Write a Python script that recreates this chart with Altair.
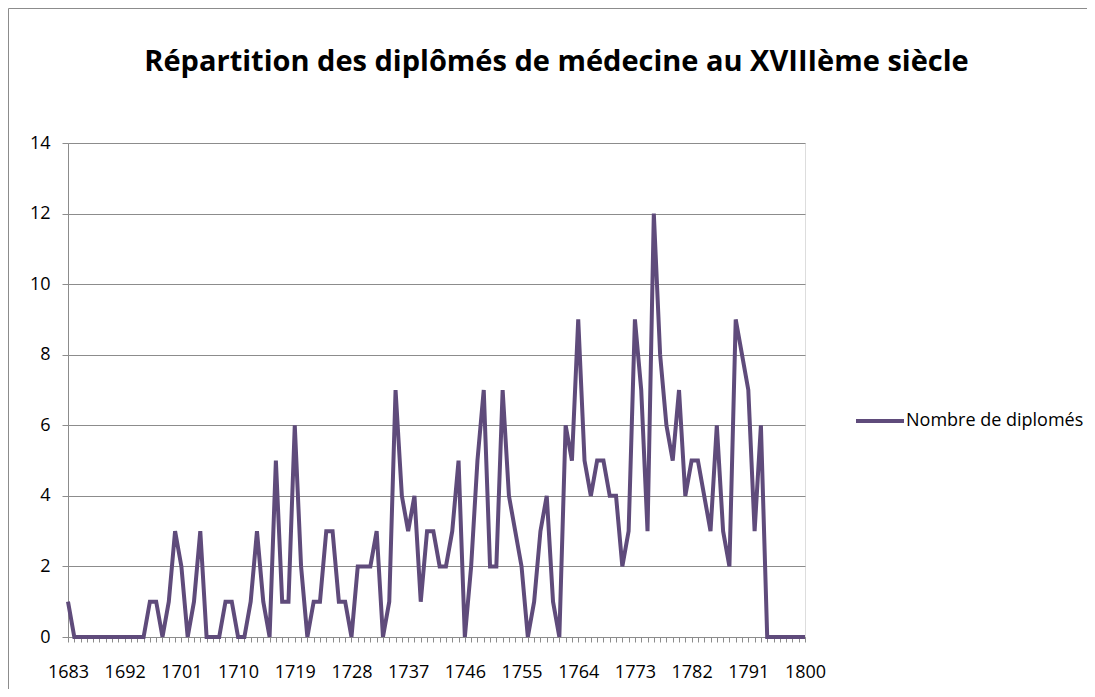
import altair as alt
import pandas as pd

years = list(range(1683, 1801))
values = [
    1, 0, 0, 0, 0, 0, 0, 0, 0, 0, 0, 0, 0,          # 1683-1695
    1, 1, 0, 1, 3, 2, 0, 1, 3, 0, 0, 0, 1, 1,       # 1696-1709
    0, 0, 1, 3, 1, 0, 5, 1, 1, 6, 2, 0, 1, 1,       # 1710-1723
    3, 3, 1, 1, 0, 2, 2, 2, 3, 0, 1, 7, 4, 3,       # 1724-1737
    4, 1, 3, 3, 2, 2, 3, 5, 0, 2, 5, 7, 2, 2,       # 1738-1751
    7, 4, 3, 2, 0, 1, 3, 4, 1, 0, 6, 5, 9, 5,       # 1752-1765
    4, 5, 5, 4, 4, 2, 3, 9, 7, 3, 12, 8, 6, 5,      # 1766-1779
    7, 4, 5, 5, 4, 3, 6, 3, 2, 9, 8, 7, 3, 6,       # 1780-1793
    0, 0, 0, 0, 0, 0, 0,                             # 1794-1800
]
series_name = "Nombre de diplomés"
title_text = "Répartition des diplômés de médecine au XVIIIème siècle"
y_ticks = [0, 2, 4, 6, 8, 10, 12, 14]

df = pd.DataFrame({"year": years, "value": values, "series": [series_name] * len(years)})
one = pd.DataFrame({"a": [0]})

FONT = "Open Sans"
GRID = "#8c8c8c"
PURPLE = "#5f4b7b"

border_top = alt.Chart(one).mark_rule(stroke=GRID, strokeWidth=1).encode(
    x=alt.value(-59.5), x2=alt.value(1200), y=alt.value(-134.5)
)
border_left = alt.Chart(one).mark_rule(stroke=GRID, strokeWidth=1).encode(
    x=alt.value(-59.5), y=alt.value(-134.5), y2=alt.value(800)
)

line = alt.Chart(df).mark_line(strokeWidth=4, clip=False).encode(
    x=alt.X(
        "year:Q",
        scale=alt.Scale(domain=[1683, 1800], nice=False, zero=False),
        axis=alt.Axis(
            title=None,
            values=years,
            format="d",
            labelExpr="(datum.value - 1683) % 9 == 0 ? datum.label : ''",
            labelOverlap=False,
            labelFlush=False,
            labelFont=FONT,
            labelFontSize=18,
            labelColor="#000000",
            labelPadding=21,
            tickSize=5,
            tickColor=GRID,
            domainColor=GRID,
            grid=False,
        ),
    ),
    y=alt.Y(
        "value:Q",
        scale=alt.Scale(domain=[0, 14], nice=False),
        axis=alt.Axis(
            title=None,
            values=y_ticks,
            labelFont=FONT,
            labelFontSize=18,
            labelColor="#000000",
            labelPadding=12,
            tickSize=6,
            tickColor=GRID,
            domainColor=GRID,
            grid=True,
            gridColor=GRID,
            gridWidth=1,
        ),
    ),
    color=alt.Color(
        "series:N",
        scale=alt.Scale(domain=[series_name], range=[PURPLE]),
        legend=alt.Legend(
            title=None,
            orient="none",
            legendX=786,
            legendY=252,
            symbolType="stroke",
            symbolSize=2304,
            symbolStrokeWidth=4,
            labelFont=FONT,
            labelFontSize=18,
            labelColor="#000000",
            labelOffset=0,
            labelLimit=400,
        ),
    ),
)

chart = alt.layer(border_top, border_left, line).properties(
    width=737,
    height=494,
    autosize=alt.AutoSizeParams(type="none"),
    padding={"left": 60, "top": 135, "right": 282, "bottom": 52},
    title=alt.TitleParams(
        text=title_text,
        font=FONT,
        fontSize=29,
        fontWeight="bold",
        color="#000000",
        anchor="middle",
        frame="group",
        baseline="middle",
        dx=120,
        dy=83,
        offset=0,
    ),
).configure_view(stroke=None).configure(background="white")

chart.save("out.html", embed_options={"renderer": "svg", "actions": False})
